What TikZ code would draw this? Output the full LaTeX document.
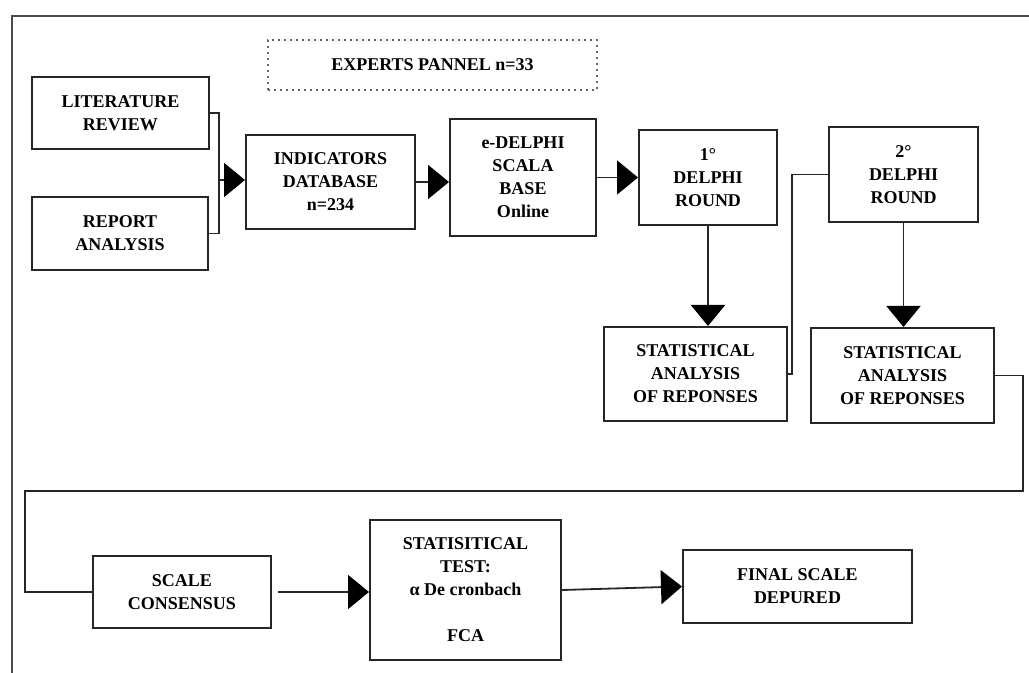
\documentclass[tikz,border=0pt]{standalone}
\usepackage{fontspec}
\setmainfont{Liberation Serif}
\usetikzlibrary{arrows.meta}

\tikzset{
  box/.style={draw=black!85, line width=1pt, align=center, inner sep=0pt,
    font=\bfseries\fontsize{9}{11.5}\selectfont},
  link/.style={draw=black!85, line width=0.9pt},
  arr/.style={link, -{Triangle[length=10.5pt,width=17pt,fill=black,color=black]}}
}

\begin{document}
\begin{tikzpicture}[x=0.5pt, y=-0.5pt]
  \useasboundingbox (0,0) rectangle (1029,673);

  % outer frame
  \draw[black!70, line width=1.1pt] (12,673) -- (12,16) -- (1029,16);

  % panel
  \node[box, draw=black!60, dotted, minimum width=164.5pt, minimum height=25pt]
    (panel) at (432.5,65) {EXPERTS PANNEL n=33};

  % first row
  \node[box, minimum width=88.5pt, minimum height=36pt] (lit) at (120.5,113) {LITERATURE\\REVIEW};
  \node[box, minimum width=88pt, minimum height=36.5pt] (rep) at (120,233.5) {REPORT\\ANALYSIS};
  \node[box, minimum width=84.5pt, minimum height=47pt] (ind) at (330.5,182) {INDICATORS\\DATABASE\\n=234};
  \node[box, minimum width=73pt, minimum height=58.5pt] (edel) at (523,177.5) {e-DELPHI\\SCALA\\BASE\\Online};
  \node[box, minimum width=69pt, minimum height=47.5pt] (r1) at (708,177.5) {1°\\DELPHI\\ROUND};
  \node[box, minimum width=74.5pt, minimum height=47.5pt] (r2) at (903.5,174.5) {2°\\DELPHI\\ROUND};

  % analysis row
  \node[box, minimum width=91.5pt, minimum height=47pt] (st1) at (695.5,374) {STATISTICAL\\ANALYSIS\\OF REPONSES};
  \node[box, minimum width=91.5pt, minimum height=47.5pt] (st2) at (902.5,375.5) {STATISTICAL\\ANALYSIS\\OF REPONSES};

  % last row
  \node[box, minimum width=89pt, minimum height=36pt] (cons) at (182,592) {SCALE\\CONSENSUS};
  \node[box, minimum width=95.5pt, minimum height=70pt] (test) at (465.5,590)
    {STATISITICAL\\TEST:\\α De cronbach\hspace{1.2em}\\[11.5pt]FCA};
  \node[box, minimum width=114.5pt, minimum height=36.5pt] (final) at (797.5,586.5) {FINAL SCALE\\DEPURED};

  % connectors
  \coordinate (jn) at (219,180);
  \coordinate (back) at (25,491);
  \draw[link] (lit.east) -| (jn) |- (rep.east);
  \draw[arr] (jn) -- (jn -| ind.west);
  \draw[arr] (ind.east) -- (ind.east -| edel.west);
  \draw[arr] (edel.east) -- (r1.west);
  \draw[arr] (r1.south) -- (r1.south |- st1.north);
  \draw[link] (r2.west) -- ++(-36,0) |- (st1.east);
  \draw[arr] (r2.south) -- (r2.south |- st2.north);
  \draw[link] (st2.east) -- ++(28,0) |- (back) |- (cons.west);
  \draw[arr, shorten <=3pt] (cons.east) -- (cons.east -| test.west);
  \draw[arr] (test.east) -- (final.west);
\end{tikzpicture}
\end{document}
